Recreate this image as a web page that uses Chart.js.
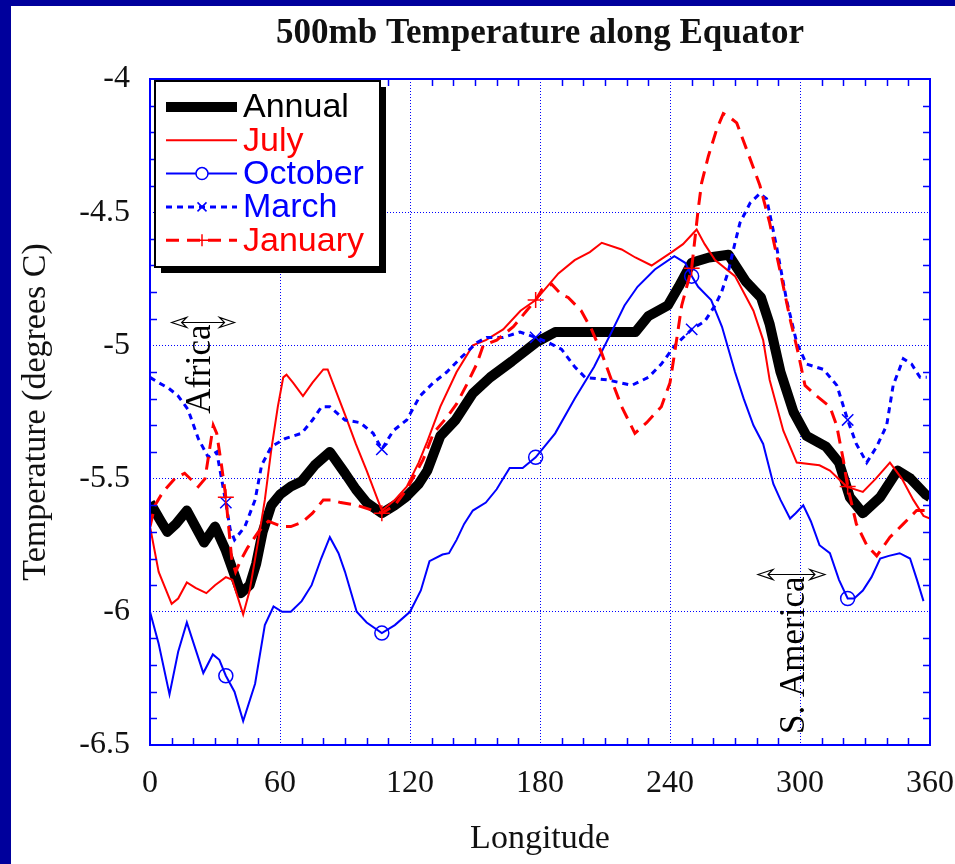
<!DOCTYPE html>
<html>
<head>
<meta charset="utf-8">
<title>500mb Temperature along Equator</title>
<script src="https://cdn.jsdelivr.net/npm/chart.js@4.4.0/dist/chart.umd.min.js"></script>
<style>
  html, body { margin: 0; padding: 0; width: 955px; height: 864px; overflow: hidden; background: #00009c; }
  #wrap { position: absolute; left: 11px; top: 6px; width: 944px; height: 858px; background: #ffffff; }
  canvas { display: block; }
</style>
</head>
<body>
<div id="wrap"><canvas id="tempChart" width="944" height="858"></canvas></div>
<script>
// values (longitude in degrees east, temperature in deg C)
const xTicks = [0, 60, 120, 180, 240, 300, 360];
const yTicks = [-6.5, -6, -5.5, -5, -4.5, -4];
const markerLon = [35, 107, 178, 250, 322];

const annualLon = [0,5,8,12,17,21,25,30,35,42,46,49,52,56,60,65,70,76,83,90,95,100,107,113,118,124,128,134,141,149,157,167,178,187,200,210,224,230,239,244,250,258,267,275,282,286,291,297,303,312,318,323,329,337,345,351,358,360];
const annualTemp = [-5.59,-5.66,-5.70,-5.67,-5.62,-5.68,-5.74,-5.68,-5.77,-5.93,-5.90,-5.82,-5.70,-5.60,-5.56,-5.53,-5.51,-5.45,-5.40,-5.48,-5.54,-5.59,-5.63,-5.60,-5.57,-5.52,-5.47,-5.34,-5.28,-5.18,-5.12,-5.06,-4.99,-4.95,-4.95,-4.95,-4.95,-4.89,-4.85,-4.78,-4.69,-4.67,-4.66,-4.76,-4.82,-4.92,-5.10,-5.25,-5.34,-5.38,-5.44,-5.57,-5.63,-5.57,-5.47,-5.50,-5.56,-5.57];

const julyLon = [0,4,10,13,17,21,26,30,35,38,43,46,50,53,56,59,61.5,63,66,70.6,75,80,82,90,95,100,107,113,118.5,124,128,134,141.5,149,155,163,171,178,188.5,196,203,208.5,217.7,224,231.5,240.8,246,252.3,256,260.8,270,278.5,283,286,292.3,298.5,309,313.8,321.5,329,335,341.5,347,352.3,357,360];
const julyTemp = [-5.68,-5.85,-5.97,-5.95,-5.89,-5.91,-5.93,-5.90,-5.87,-5.88,-6.01,-5.92,-5.73,-5.58,-5.39,-5.23,-5.12,-5.11,-5.14,-5.19,-5.14,-5.09,-5.09,-5.26,-5.37,-5.47,-5.62,-5.58,-5.53,-5.44,-5.36,-5.23,-5.10,-5.00,-4.98,-4.94,-4.87,-4.83,-4.73,-4.68,-4.65,-4.615,-4.64,-4.67,-4.70,-4.65,-4.62,-4.565,-4.62,-4.68,-4.74,-4.87,-4.98,-5.13,-5.32,-5.44,-5.45,-5.47,-5.53,-5.55,-5.50,-5.44,-5.50,-5.58,-5.64,-5.65];

const octLon = [0,4,9,13,17,21,24.6,29,32,35,39,43,48.5,53,57,61,65,70,74.6,79,83,87,90,95.4,100,107,113,120,125,129,135,138,141.5,145,149,155,160,163,166,172,178,187,196,205,213,219,225,233,242,247,250,253,259,264,270,274,278.5,283,287.7,291,295.4,298,301.5,305,309,313.8,318,322,325,329,333,337,341,346,350.8,354,357];
const octTemp = [-6.00,-6.12,-6.31,-6.15,-6.04,-6.14,-6.23,-6.16,-6.18,-6.24,-6.30,-6.41,-6.27,-6.05,-5.98,-6.00,-6.00,-5.96,-5.90,-5.80,-5.72,-5.78,-5.85,-6.00,-6.04,-6.08,-6.05,-6.00,-5.92,-5.81,-5.785,-5.78,-5.73,-5.67,-5.62,-5.59,-5.54,-5.50,-5.46,-5.46,-5.42,-5.33,-5.20,-5.08,-4.95,-4.85,-4.78,-4.715,-4.665,-4.69,-4.74,-4.78,-4.83,-4.93,-5.10,-5.20,-5.30,-5.37,-5.52,-5.58,-5.65,-5.63,-5.60,-5.66,-5.75,-5.78,-5.88,-5.95,-5.95,-5.92,-5.87,-5.80,-5.79,-5.78,-5.80,-5.88,-5.96];

const marchLon = [0,4,8.5,13,17.5,22.3,26.9,30.8,35,37,39,43.8,48.5,51.5,56,62.3,70,75,79.2,83,90,97,103,107,112.3,118.5,124.6,130.8,137,143,150.8,155.4,163,170.8,178,184,190,196,200.8,211.5,222.3,230,236,242.3,250,256,260.8,263.8,267,270,272.3,277,281.5,284.6,289.2,293.8,298.5,303,310.8,317,322,326,330.8,335.4,340,343,347.7,351.5,355.4,358.5];
const marchTemp = [-5.12,-5.14,-5.16,-5.19,-5.24,-5.35,-5.42,-5.40,-5.59,-5.69,-5.73,-5.68,-5.58,-5.45,-5.38,-5.35,-5.33,-5.28,-5.23,-5.23,-5.28,-5.29,-5.33,-5.39,-5.32,-5.28,-5.19,-5.14,-5.10,-5.05,-4.99,-4.97,-4.97,-4.95,-4.97,-4.99,-5.015,-5.08,-5.12,-5.13,-5.15,-5.12,-5.07,-5.00,-4.94,-4.91,-4.85,-4.80,-4.72,-4.615,-4.54,-4.465,-4.43,-4.45,-4.63,-4.83,-4.99,-5.07,-5.09,-5.15,-5.28,-5.37,-5.44,-5.38,-5.30,-5.15,-5.05,-5.07,-5.12,-5.12];

const janLon = [0,2.3,6,11.5,16,22.3,25.4,27.7,29.2,30.8,33,35,37.7,39.5,42.3,45,50,54.6,60.8,65,70,75,80,83.8,88,95.4,103,107,113,118.5,126,130.8,137,141.5,146,150.8,153.8,160,167.7,173.8,178,181,185.4,190,193,199,203.8,208.5,213,217.7,223.8,229.2,236,240,242.3,245.4,250,253,254.6,257.7,261.5,264.6,267,270.8,275.4,281.5,286,290.8,295.4,299.2,302.3,307.7,313.8,316.9,320,322,326,330.8,335.4,341.5,347.7,353.8,358];
const janTemp = [-5.68,-5.60,-5.55,-5.50,-5.48,-5.53,-5.50,-5.38,-5.30,-5.33,-5.45,-5.57,-5.80,-5.85,-5.80,-5.76,-5.70,-5.66,-5.68,-5.68,-5.665,-5.63,-5.58,-5.58,-5.59,-5.60,-5.62,-5.63,-5.60,-5.54,-5.43,-5.33,-5.27,-5.22,-5.15,-5.07,-5.00,-4.98,-4.93,-4.87,-4.83,-4.79,-4.77,-4.81,-4.82,-4.87,-4.94,-5.03,-5.13,-5.23,-5.33,-5.29,-5.23,-5.14,-5.02,-4.85,-4.71,-4.49,-4.39,-4.29,-4.19,-4.13,-4.14,-4.165,-4.265,-4.40,-4.54,-4.72,-4.90,-5.03,-5.15,-5.19,-5.23,-5.30,-5.43,-5.53,-5.67,-5.75,-5.79,-5.72,-5.67,-5.62,-5.62];

const BLUE = '#0000ff';
const RED = '#ff0000';
const SERIF = '"Liberation Serif", "Times New Roman", serif';
const SANS = '"Liberation Sans", Arial, sans-serif';

function points(lons, temps) {
    return lons.map((x, i) => ({ x: x, y: temps[i] }));
}

// only a few points carry a symbol
function markerRadius(r) {
    return ctx => (ctx.raw && markerLon.includes(ctx.raw.x)) ? r : 0;
}

function drawSymbol(ctx, style, x, y, r, color) {
    ctx.save();
    ctx.strokeStyle = color;
    ctx.lineWidth = 1.5;
    ctx.setLineDash([]);
    ctx.beginPath();
    if (style === 'circle') {
        ctx.arc(x, y, r, 0, Math.PI * 2);
    } else if (style === 'crossRot') {
        const d = r * 0.75;
        ctx.moveTo(x - d, y - d); ctx.lineTo(x + d, y + d);
        ctx.moveTo(x + d, y - d); ctx.lineTo(x - d, y + d);
    } else if (style === 'cross') {
        ctx.moveTo(x - r, y); ctx.lineTo(x + r, y);
        ctx.moveTo(x, y - r); ctx.lineTo(x, y + r);
    }
    ctx.stroke();
    ctx.restore();
}

// blue frame plus the small inward minor ticks
const framePlugin = {
    id: 'frame',
    afterDraw(chart) {
        const { ctx, chartArea: a, scales: { x, y } } = chart;
        ctx.save();
        ctx.strokeStyle = BLUE;
        ctx.lineWidth = 1.5;
        ctx.beginPath();
        for (let lon = 10; lon < 360; lon += 10) {
            if (lon % 60 === 0) continue;
            const px = Math.round(x.getPixelForValue(lon)) + 0.5;
            ctx.moveTo(px, a.bottom); ctx.lineTo(px, a.bottom - 7);
            ctx.moveTo(px, a.top); ctx.lineTo(px, a.top + 7);
        }
        for (let k = 1; k < 25; k++) {
            if (k % 5 === 0) continue;
            const py = Math.round(y.getPixelForValue(-6.5 + k * 0.1)) + 0.5;
            ctx.moveTo(a.left, py); ctx.lineTo(a.left + 7, py);
            ctx.moveTo(a.right, py); ctx.lineTo(a.right - 7, py);
        }
        ctx.stroke();
        ctx.lineWidth = 2;
        ctx.strokeRect(a.left, a.top, a.right - a.left, a.bottom - a.top);
        ctx.restore();
    }
};

// continent labels with double arrows
function doubleArrow(ctx, x1, x2, y) {
    ctx.beginPath();
    ctx.moveTo(x1 + 10, y); ctx.lineTo(x2 - 10, y);
    ctx.stroke();
    [[x1, 1], [x2, -1]].forEach(([tip, dir]) => {
        ctx.beginPath();
        ctx.moveTo(tip, y);
        ctx.lineTo(tip + dir * 15, y - 5);
        ctx.lineTo(tip + dir * 10, y);
        ctx.lineTo(tip + dir * 15, y + 5);
        ctx.closePath();
        ctx.fillStyle = '#fff';
        ctx.fill();
        ctx.stroke();
    });
}

const regionPlugin = {
    id: 'regions',
    afterDatasetsDraw(chart) {
        const { ctx, scales: { x, y } } = chart;
        const regions = [
            { text: 'Africa', from: 10, to: 39, at: -4.914, textLon: 23.5 },
            { text: 'S. America', from: 280.6, to: 311.5, at: -5.86, textLon: 297.7 }
        ];
        ctx.save();
        ctx.strokeStyle = '#000';
        ctx.lineWidth = 1.2;
        regions.forEach(r => {
            const py = y.getPixelForValue(r.at);
            doubleArrow(ctx, x.getPixelForValue(r.from), x.getPixelForValue(r.to), py);
            ctx.save();
            ctx.translate(x.getPixelForValue(r.textLon), py + 2);
            ctx.rotate(-Math.PI / 2);
            ctx.fillStyle = '#000';
            ctx.font = '35px ' + SERIF;
            ctx.textAlign = 'right';
            ctx.textBaseline = 'middle';
            ctx.fillText(r.text, 0, 0);
            ctx.restore();
        });
        ctx.restore();
    }
};

// boxed legend inside the upper left corner of the plot
const boxLegendPlugin = {
    id: 'boxLegend',
    afterDraw(chart) {
        const { ctx, chartArea: a } = chart;
        const bx = a.left + 5, by = a.top + 2, bw = 225, bh = 186;
        ctx.save();
        ctx.fillStyle = '#000';
        ctx.fillRect(bx + 6, by + 6, bw, bh);
        ctx.fillStyle = '#fff';
        ctx.fillRect(bx, by, bw, bh);
        ctx.strokeStyle = '#000';
        ctx.lineWidth = 2;
        ctx.strokeRect(bx, by, bw, bh);
        chart.data.datasets.forEach((ds, i) => {
            const ly = a.top + 28 + i * 33.3;
            ctx.save();
            ctx.strokeStyle = ds.borderColor;
            ctx.lineWidth = ds.borderWidth;
            ctx.setLineDash(ds.borderDash || []);
            ctx.beginPath();
            ctx.moveTo(a.left + 16, ly);
            ctx.lineTo(a.left + 87, ly);
            ctx.stroke();
            ctx.restore();
            if (ds.pointStyle && ds.pointStyle !== 'line') {
                ctx.fillStyle = '#fff';
                if (ds.pointStyle === 'circle') {
                    ctx.beginPath();
                    ctx.arc(a.left + 52, ly, 6, 0, Math.PI * 2);
                    ctx.fill();
                }
                drawSymbol(ctx, ds.pointStyle, a.left + 52, ly, 6, ds.borderColor);
            }
            ctx.fillStyle = ds.borderColor;
            ctx.font = '34px ' + SANS;
            ctx.textAlign = 'left';
            ctx.textBaseline = 'middle';
            ctx.fillText(ds.label, a.left + 93, ly + 1);
        });
        ctx.restore();
    }
};

const ctx = document.getElementById('tempChart').getContext('2d');

new Chart(ctx, {
    type: 'line',
    data: {
        datasets: [
            {
                label: 'Annual',
                data: points(annualLon, annualTemp),
                borderColor: '#000000',
                borderWidth: 10,
                borderJoinStyle: 'round',
                pointRadius: 0,
                pointStyle: 'line',
                order: 5
            },
            {
                label: 'July',
                data: points(julyLon, julyTemp),
                borderColor: RED,
                borderWidth: 2,
                pointRadius: 0,
                pointStyle: 'line',
                order: 4
            },
            {
                label: 'October',
                data: points(octLon, octTemp),
                borderColor: BLUE,
                borderWidth: 2,
                pointStyle: 'circle',
                pointRadius: markerRadius(7),
                pointBorderWidth: 1.5,
                pointBackgroundColor: 'rgba(255,255,255,0)',
                pointBorderColor: BLUE,
                order: 3
            },
            {
                label: 'March',
                data: points(marchLon, marchTemp),
                borderColor: BLUE,
                borderWidth: 3,
                borderDash: [6, 5],
                pointStyle: 'crossRot',
                pointRadius: markerRadius(8),
                pointBorderWidth: 1.5,
                pointBorderColor: BLUE,
                order: 2
            },
            {
                label: 'January',
                data: points(janLon, janTemp),
                borderColor: RED,
                borderWidth: 3,
                borderDash: [13, 8],
                pointStyle: 'cross',
                pointRadius: markerRadius(8),
                pointBorderWidth: 1.5,
                pointBorderColor: RED,
                order: 1
            }
        ]
    },
    options: {
        responsive: false,
        animation: false,
        layout: { padding: { top: 0, right: 25, bottom: 0, left: 0 } },
        elements: { line: { tension: 0, fill: false } },
        plugins: {
            legend: { display: false },
            tooltip: { enabled: false },
            title: {
                display: true,
                text: '500mb Temperature along Equator',
                color: '#111',
                fullSize: false,
                font: { family: SERIF, size: 35, weight: 'bold', lineHeight: 1.2 },
                padding: { top: 7, bottom: 24 }
            }
        },
        scales: {
            x: {
                type: 'linear',
                min: xTicks[0],
                max: xTicks[xTicks.length - 1],
                afterBuildTicks: scale => { scale.ticks = xTicks.map(v => ({ value: v })); },
                afterFit: scale => { scale.height = 119; },
                ticks: {
                    color: '#111',
                    padding: 0,
                    maxRotation: 0,
                    callback: v => String(v),
                    font: { family: SERIF, size: 32 }
                },
                // invisible tick marks push the labels down without widening the side padding
                grid: { color: BLUE, lineWidth: 1, drawTicks: true, tickLength: 19, tickColor: 'rgba(0,0,0,0)' },
                border: { display: false, dash: [1, 2] },
                title: {
                    display: true,
                    text: 'Longitude',
                    color: '#111',
                    font: { family: SERIF, size: 34, lineHeight: 1.2 },
                    padding: { top: 0, bottom: 5 }
                }
            },
            y: {
                type: 'linear',
                min: yTicks[0],
                max: yTicks[yTicks.length - 1],
                afterBuildTicks: scale => { scale.ticks = yTicks.map(v => ({ value: v })); },
                afterFit: scale => { scale.width = 139; },
                ticks: {
                    color: '#111',
                    padding: 20,
                    callback: v => String(v),
                    font: { family: SERIF, size: 32 }
                },
                grid: { color: BLUE, lineWidth: 1, drawTicks: false },
                border: { display: false, dash: [1, 2] },
                title: {
                    display: true,
                    text: 'Temperature (degrees C)',
                    color: '#111',
                    font: { family: SERIF, size: 34, lineHeight: 1.2 },
                    padding: { top: 5, bottom: 0 }
                }
            }
        }
    },
    plugins: [framePlugin, regionPlugin, boxLegendPlugin]
});
</script>
</body>
</html>
